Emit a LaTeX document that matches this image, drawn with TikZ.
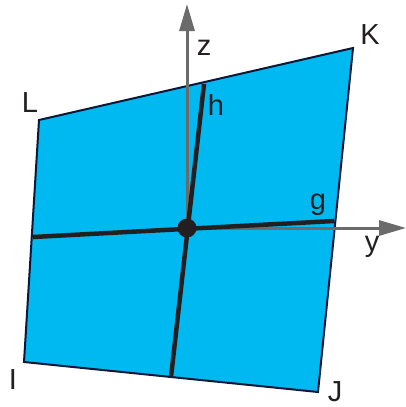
\documentclass[tikz,border=0pt]{standalone}
\usepackage{fontspec}
\setmainfont{Liberation Sans}
\usetikzlibrary{arrows.meta}
\definecolor{pcyan}{HTML}{00B9F1}
\definecolor{pnavy}{HTML}{0D1738}
\definecolor{pink}{HTML}{231F20}
\definecolor{pgrey}{HTML}{6B6B6B}
\tikzset{
  pface/.style={fill=pcyan, draw=pnavy, line width=2pt, line join=miter},
  paxis/.style={-{Triangle[length=27pt,width=15pt]}, draw=pgrey, fill=pgrey,
    line width=3pt},
  pline/.style={draw=pink, line width=4.5pt},
  plabel/.style={text=pink, font=\fontsize{29}{30}\selectfont, inner sep=0pt},
}
\begin{document}
\begin{tikzpicture}[x=1pt,y=-1pt]
\useasboundingbox (0,0) rectangle (406,407);

% corners of the face
\coordinate (L) at (39,120);
\coordinate (K) at (353,48);
\coordinate (J) at (318,392);
\coordinate (I) at (24,362);
\coordinate (o) at (187,228);
\coordinate (ztip) at (187,4);
\coordinate (ytip) at (406,228);
\coordinate (gl) at (33,237);
\coordinate (gr) at (334,221);
\coordinate (ht) at (204,84);
\coordinate (hb) at (171,377);

\draw[pface] (L) -- (K) -- (J) -- (I) -- cycle;

\draw[paxis] (o) -- (ztip);
\draw[paxis] (o) -- (ytip);

\draw[pline] (gl) -- (gr);
\draw[pline] (ht) -- (hb);
\fill[pink] (o) circle (9.5pt);

\node[plabel] (lL) at (30,103) {L};
\node[plabel] (lK) at (370,35) {K};
\node[plabel] (lI) at (13,380) {I};
\node[plabel] (lJ) at (335,392) {J};
\node[plabel] (lz) at (204,48) {z};
\node[plabel] (lh) at (216,105) {h};
\node[plabel] (lg) at (318,205) {g};
\node[plabel] (ly) at (372,247) {y};

\end{tikzpicture}
\end{document}
